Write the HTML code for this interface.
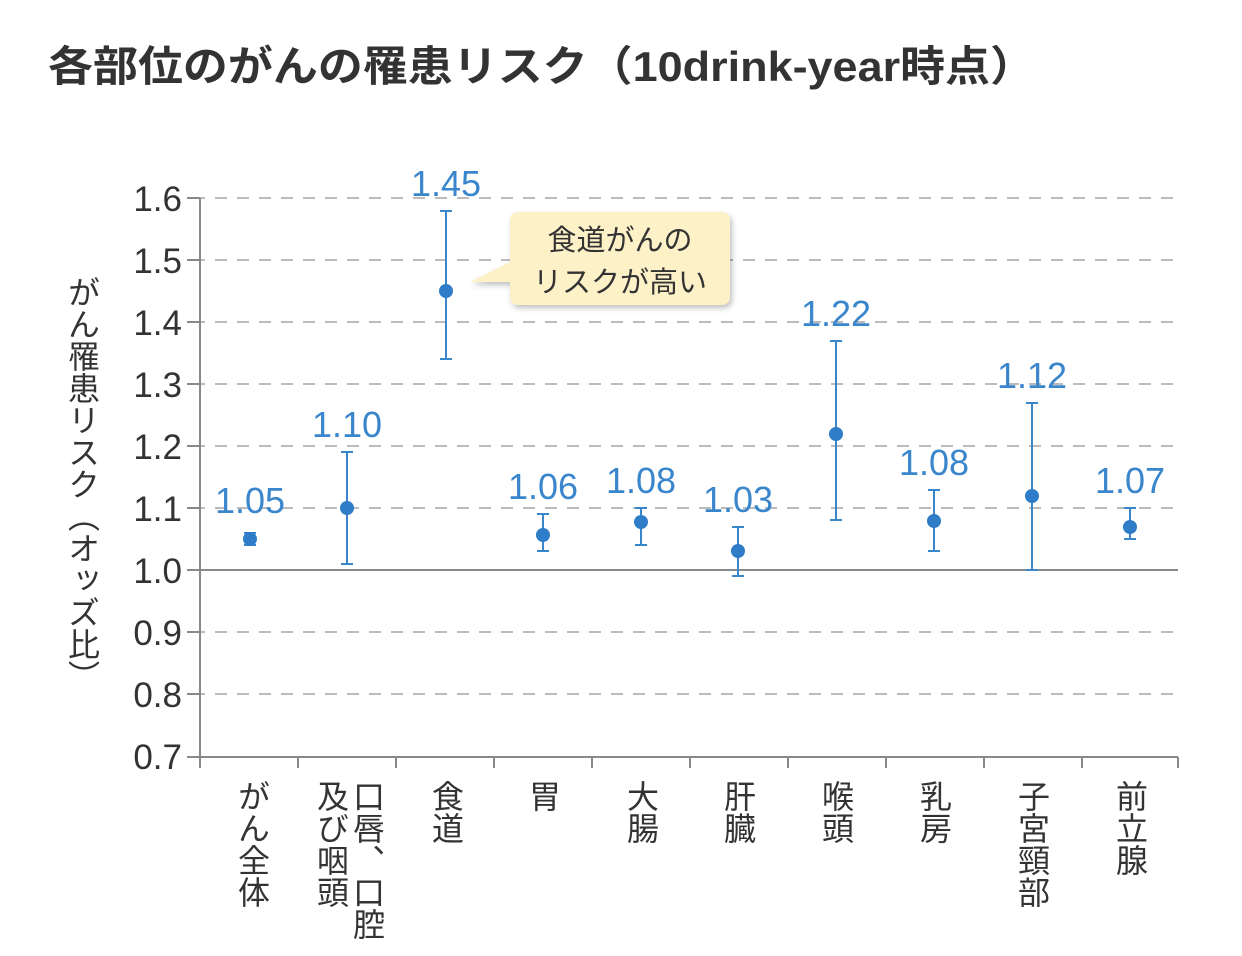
<!DOCTYPE html>
<html><head><meta charset="utf-8"><style>
body{margin:0;background:#fff;}
svg text{font-family:"Liberation Sans","Noto Sans CJK JP",sans-serif;}
</style></head><body>
<svg width="1242" height="951" xmlns="http://www.w3.org/2000/svg">
<text x="48" y="81" font-size="42" font-weight="bold" fill="#333" textLength="987" lengthAdjust="spacingAndGlyphs">各部位のがんの罹患リスク（10drink-year時点）</text>
<g stroke="#bbb" stroke-width="2" stroke-dasharray="12,10">
<line x1="193" y1="198" x2="1178" y2="198"/><line x1="193" y1="260" x2="1178" y2="260"/>
<line x1="193" y1="322" x2="1178" y2="322"/><line x1="193" y1="384" x2="1178" y2="384"/>
<line x1="193" y1="446" x2="1178" y2="446"/><line x1="193" y1="508" x2="1178" y2="508"/>
<line x1="193" y1="632" x2="1178" y2="632"/><line x1="193" y1="694" x2="1178" y2="694"/>
</g>
<g stroke="#888" stroke-width="2">
<line x1="187" y1="570" x2="1178" y2="570"/>
<line x1="187" y1="757" x2="1178" y2="757"/>
<line x1="200" y1="198" x2="200" y2="768"/>
<line x1="298" y1="757" x2="298" y2="768"/><line x1="396" y1="757" x2="396" y2="768"/>
<line x1="494" y1="757" x2="494" y2="768"/><line x1="592" y1="757" x2="592" y2="768"/>
<line x1="690" y1="757" x2="690" y2="768"/><line x1="788" y1="757" x2="788" y2="768"/>
<line x1="886" y1="757" x2="886" y2="768"/><line x1="984" y1="757" x2="984" y2="768"/>
<line x1="1082" y1="757" x2="1082" y2="768"/><line x1="1178" y1="757" x2="1178" y2="768"/>
<line x1="187" y1="198" x2="200" y2="198"/><line x1="187" y1="260" x2="200" y2="260"/>
<line x1="187" y1="322" x2="200" y2="322"/><line x1="187" y1="384" x2="200" y2="384"/>
<line x1="187" y1="446" x2="200" y2="446"/><line x1="187" y1="508" x2="200" y2="508"/>
<line x1="187" y1="632" x2="200" y2="632"/><line x1="187" y1="694" x2="200" y2="694"/>
</g>
<g font-size="35" fill="#333" text-anchor="end">
<text x="182" y="211">1.6</text><text x="182" y="273">1.5</text><text x="182" y="335">1.4</text>
<text x="182" y="397">1.3</text><text x="182" y="459">1.2</text><text x="182" y="521">1.1</text>
<text x="182" y="583">1.0</text><text x="182" y="645">0.9</text><text x="182" y="707">0.8</text>
<text x="182" y="769">0.7</text>
</g>
<text x="82" y="276" font-size="32" fill="#333" style="writing-mode:vertical-rl">がん罹患リスク（オッズ比）</text>
<g stroke="#3a86cc" stroke-width="2" fill="#2f7cc8">
<line x1="250" y1="533" x2="250" y2="545"/><line x1="244" y1="533" x2="256" y2="533"/><line x1="244" y1="545" x2="256" y2="545"/><circle cx="250" cy="539" r="7" stroke="none"/>
<line x1="347" y1="452" x2="347" y2="564"/><line x1="341" y1="452" x2="353" y2="452"/><line x1="341" y1="564" x2="353" y2="564"/><circle cx="347" cy="508" r="7" stroke="none"/>
<line x1="446" y1="211" x2="446" y2="359"/><line x1="440" y1="211" x2="452" y2="211"/><line x1="440" y1="359" x2="452" y2="359"/><circle cx="446" cy="291" r="7" stroke="none"/>
<line x1="543" y1="514" x2="543" y2="551"/><line x1="537" y1="514" x2="549" y2="514"/><line x1="537" y1="551" x2="549" y2="551"/><circle cx="543" cy="535" r="7" stroke="none"/>
<line x1="641" y1="508" x2="641" y2="545"/><line x1="635" y1="508" x2="647" y2="508"/><line x1="635" y1="545" x2="647" y2="545"/><circle cx="641" cy="522" r="7" stroke="none"/>
<line x1="738" y1="527" x2="738" y2="576"/><line x1="732" y1="527" x2="744" y2="527"/><line x1="732" y1="576" x2="744" y2="576"/><circle cx="738" cy="551" r="7" stroke="none"/>
<line x1="836" y1="341" x2="836" y2="520"/><line x1="830" y1="341" x2="842" y2="341"/><line x1="830" y1="520" x2="842" y2="520"/><circle cx="836" cy="434" r="7" stroke="none"/>
<line x1="934" y1="490" x2="934" y2="551"/><line x1="928" y1="490" x2="940" y2="490"/><line x1="928" y1="551" x2="940" y2="551"/><circle cx="934" cy="521" r="7" stroke="none"/>
<line x1="1032" y1="403" x2="1032" y2="570"/><line x1="1026" y1="403" x2="1038" y2="403"/><line x1="1026" y1="570" x2="1038" y2="570"/><circle cx="1032" cy="496" r="7" stroke="none"/>
<line x1="1130" y1="508" x2="1130" y2="539"/><line x1="1124" y1="508" x2="1136" y2="508"/><line x1="1124" y1="539" x2="1136" y2="539"/><circle cx="1130" cy="527" r="7" stroke="none"/>
</g>
<g font-size="36" fill="#3a86cc" text-anchor="middle">
<text x="250" y="513">1.05</text><text x="347" y="437">1.10</text><text x="446" y="196">1.45</text>
<text x="543" y="499">1.06</text><text x="641" y="493">1.08</text><text x="738" y="512">1.03</text>
<text x="836" y="326">1.22</text><text x="934" y="475">1.08</text><text x="1032" y="388">1.12</text>
<text x="1130" y="493">1.07</text>
</g>
<defs><filter id="sh" x="-10%" y="-10%" width="130%" height="140%"><feDropShadow dx="2" dy="3" stdDeviation="3" flood-color="#000" flood-opacity="0.25"/></filter></defs>
<path d="M518,212 H722 a8,8 0 0 1 8,8 V297 a8,8 0 0 1 -8,8 H518 a8,8 0 0 1 -8,-8 V282 L470,282 L510,262 V220 a8,8 0 0 1 8,-8 Z" fill="#fdf1c8" filter="url(#sh)"/>
<g font-size="29" fill="#333" text-anchor="middle">
<text x="620" y="250">食道がんの</text><text x="620" y="292">リスクが高い</text>
</g>
<g font-size="32" fill="#333" style="writing-mode:vertical-rl">
<text x="252" y="780">がん全体</text>
<text x="367" y="780">口唇、口腔</text>
<text x="331" y="780">及び咽頭</text>
<text x="446" y="780">食道</text>
<text x="543" y="780">胃</text>
<text x="641" y="780">大腸</text>
<text x="738" y="780">肝臓</text>
<text x="836" y="780">喉頭</text>
<text x="934" y="780">乳房</text>
<text x="1032" y="780">子宮頸部</text>
<text x="1130" y="780">前立腺</text>
</g>
</svg>
</body></html>
